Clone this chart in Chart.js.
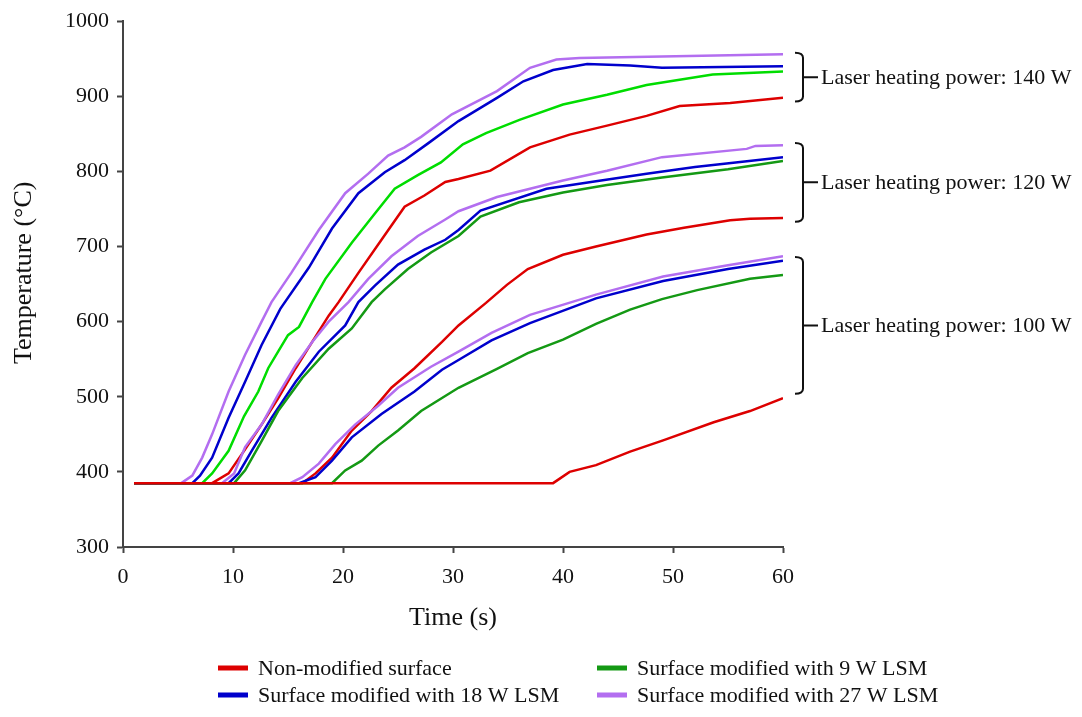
<!DOCTYPE html>
<html>
<head>
<meta charset="utf-8">
<script src="https://cdn.jsdelivr.net/npm/chart.js@4/dist/chart.umd.min.js"></script>
<style>
    html, body { margin: 0; padding: 0; background: #fff; }
    #wrap { width: 1082px; height: 717px; position: relative; }
</style>
</head>
<body>
<div id="wrap"><canvas id="tempChart"></canvas></div>
<script>
// time (s), temperature (°C) readings for each surface / laser power
var nonMod140 = [[1,385],[8.1,385],[9.6,398],[11.1,430],[12.6,463],[14.1,498],[15.7,538],[17.2,573],[18.7,608],[19.6,626],[21.4,665],[23.5,709],[25.6,753],[27.4,768],[29.3,786],[30.5,790],[33.4,801],[37,832],[40.6,849],[44,861],[47.6,874],[50.6,887],[55.2,891],[60,898]];
var nonMod120 = [[1,385],[16.3,385],[17.5,398],[19,419],[20.8,455],[22.6,481],[24.4,512],[26.5,538],[29,573],[30.5,595],[33,625],[34.9,649],[36.8,670],[40,689],[43,700],[47.6,716],[51,725],[55.2,735],[57,737],[60,738]];
var nonMod100 = [[1,385],[39.1,385],[40.6,400],[43,409],[46.1,427],[49.1,442],[53.7,466],[57,481],[60,498]];

var lsm9_140 = [[1,385],[7.2,385],[8.1,398],[9.6,428],[11,474],[12.3,507],[13.2,538],[14.1,560],[15,582],[16,593],[17.2,626],[18.4,657],[20.8,705],[22.9,744],[24.7,777],[26.8,795],[28.9,812],[30.9,836],[33,851],[36.1,869],[40,889],[44,902],[47.6,915],[53.6,929],[60,933]];
var lsm9_120 = [[1,385],[10.1,385],[11.1,402],[12.6,441],[14.1,481],[16.3,525],[18.7,564],[20.8,591],[22.6,626],[23.8,643],[25.9,670],[28,692],[30.5,714],[32.5,740],[36,759],[40,772],[44,782],[49,792],[55,803],[60,814]];
var lsm9_100 = [[1,385],[19,385],[20.2,402],[21.7,415],[23.2,435],[25,455],[27.1,481],[30.5,512],[34,537],[36.8,558],[40,576],[43,597],[46.1,616],[49,630],[52.2,642],[57,657],[60,662]];

var lsm18_140 = [[1,385],[6.3,385],[7,395],[8.1,419],[9.6,472],[11.1,520],[12.6,569],[14.3,617],[16.9,672],[19,724],[21.4,771],[23.8,799],[25.6,815],[27.7,837],[30.5,867],[34,898],[36.4,920],[39.1,935],[42.2,943],[46.1,941],[49,938],[60,940]];
var lsm18_120 = [[1,385],[9.6,385],[10.5,398],[11.7,428],[13.5,472],[15.7,520],[17.8,560],[20.2,595],[21.4,626],[22.9,648],[25,676],[27.4,696],[29.3,709],[30.5,722],[32.5,748],[38.5,777],[43,787],[47.6,797],[52,806],[60,819]];
var lsm18_100 = [[1,385],[16,385],[17.5,393],[19,415],[20.8,446],[23.5,477],[26.5,507],[29,536],[30.5,549],[33.5,575],[37,598],[43,631],[49.1,654],[55,670],[60,681]];

var lsm27_140 = [[1,385],[5.3,385],[6.3,395],[7.2,419],[8.1,450],[9.6,507],[11.1,556],[12.6,600],[13.5,626],[15.3,665],[17.8,722],[20.2,771],[22.3,797],[24.1,821],[25.6,832],[27.1,846],[29.9,876],[34,907],[37,938],[39.4,949],[41.5,951],[49,953],[60,956]];
var lsm27_120 = [[1,385],[9,385],[10.1,398],[11.1,433],[12.6,463],[14.1,503],[15.7,542],[17.2,573],[18.7,600],[20.5,626],[22.3,657],[24.4,687],[26.8,714],[29.3,736],[30.5,747],[34,766],[40,788],[44,801],[49,819],[56.7,830],[57.5,834],[60,835]];
var lsm27_100 = [[1,385],[15.2,385],[16.3,393],[17.8,411],[19.3,437],[21.1,463],[23.2,488],[25,512],[28,540],[30.5,560],[33.5,585],[37,609],[43,636],[49.1,660],[55,675],[60,687]];

var legendLabels = ['Non-modified surface', 'Surface modified with 9 W LSM', 'Surface modified with 18 W LSM', 'Surface modified with 27 W LSM'];
var powerLabels = ['Laser heating power: 140 W', 'Laser heating power: 120 W', 'Laser heating power: 100 W'];
// temperature span each bracket covers (top, bottom)
var powerSpans = [[958, 893], [838, 733], [686, 504]];

var xTicks = [0, 10, 20, 30, 40, 50, 60];
var yTicks = [300, 400, 500, 600, 700, 800, 900, 1000];

(function () {

    var RED = '#dd0000', BLUE = '#0000cc', PURPLE = '#b36ef0';
    var GREEN = '#00dd00', DKGREEN = '#149914';
    var FONT = "'Liberation Serif', 'Times New Roman', serif";

    function serie(points, color) {
        return {
            data: points.map(function (p) { return {x: p[0], y: p[1]}; }),
            borderColor: color,
            borderWidth: 2.5,
            pointRadius: 0,
            tension: 0,
            fill: false
        };
    }

    var datasets = [
        serie(nonMod100, RED), serie(lsm9_100, DKGREEN), serie(lsm18_100, BLUE), serie(lsm27_100, PURPLE),
        serie(nonMod120, RED), serie(lsm9_120, DKGREEN), serie(lsm18_120, BLUE), serie(lsm27_120, PURPLE),
        serie(nonMod140, RED), serie(lsm9_140, GREEN), serie(lsm18_140, BLUE), serie(lsm27_140, PURPLE)
    ];

    // y title, brackets + labels on the right, and the two-column legend at the bottom
    var extras = {
        id: 'extras',
        afterDraw: function (chart) {
            var ctx = chart.ctx;
            var yScale = chart.scales.y;
            var x0 = chart.chartArea.right + 12;
            var xv = x0 + 8;
            ctx.save();

            ctx.fillStyle = '#111';
            ctx.font = '26px ' + FONT;
            ctx.textAlign = 'center';
            ctx.textBaseline = 'middle';
            ctx.translate(24, yScale.getPixelForValue(665));
            ctx.rotate(-Math.PI / 2);
            ctx.fillText('Temperature (°C)', 0, 0);
            ctx.setTransform(1, 0, 0, 1, 0, 0);

            ctx.strokeStyle = '#111';
            ctx.lineWidth = 2;
            ctx.font = '22px ' + FONT;
            ctx.textAlign = 'left';
            powerSpans.forEach(function (span, i) {
                var yt = yScale.getPixelForValue(span[0]);
                var yb = yScale.getPixelForValue(span[1]);
                var ym = (yt + yb) / 2;
                ctx.beginPath();
                ctx.moveTo(x0, yt);
                ctx.quadraticCurveTo(xv, yt, xv, yt + 5);
                ctx.lineTo(xv, yb - 5);
                ctx.quadraticCurveTo(xv, yb, x0, yb);
                ctx.moveTo(xv, ym);
                ctx.lineTo(xv + 15, ym);
                ctx.stroke();
                ctx.fillText(powerLabels[i], xv + 18, ym + 1);
            });

            var colors = [RED, DKGREEN, BLUE, PURPLE];
            var cols = [218, 597];
            var rows = [668, 695];
            legendLabels.forEach(function (txt, i) {
                var cx = cols[i % 2], cy = rows[Math.floor(i / 2)];
                ctx.fillStyle = colors[i];
                ctx.fillRect(cx, cy - 2.5, 30, 5);
                ctx.fillStyle = '#111';
                ctx.fillText(txt, cx + 40, cy + 1);
            });
            ctx.restore();
        }
    };

    var ctx = document.getElementById('tempChart').getContext('2d');
    new Chart(ctx, {
        type: 'line',
        data: {datasets: datasets},
        plugins: [extras],
        options: {
            responsive: true,
            maintainAspectRatio: false,
            animation: false,
            layout: {padding: {left: 0, top: 16, right: 299, bottom: 77}},
            plugins: {legend: {display: false}, tooltip: {enabled: false}},
            scales: {
                x: {
                    type: 'linear',
                    min: 0,
                    max: 60,
                    afterFit: function (s) { s.height = 93; },
                    afterBuildTicks: function (s) { s.ticks = xTicks.map(function (v) { return {value: v}; }); },
                    grid: {drawOnChartArea: false, drawTicks: true, tickLength: 6, tickColor: '#444', tickWidth: 2},
                    border: {display: true, color: '#444', width: 2},
                    ticks: {color: '#111', padding: 11, maxRotation: 0, font: {family: FONT, size: 22},
                        callback: function (v) { return String(v); }},
                    title: {display: true, text: 'Time (s)', color: '#111', padding: {bottom: 6}, font: {family: FONT, size: 26}}
                },
                y: {
                    min: 300,
                    max: 1000,
                    afterFit: function (s) { s.width = 123; },
                    afterBuildTicks: function (s) { s.ticks = yTicks.map(function (v) { return {value: v}; }); },
                    grid: {drawOnChartArea: false, drawTicks: true, tickLength: 6, tickColor: '#444', tickWidth: 2},
                    border: {display: true, color: '#444', width: 2},
                    ticks: {color: '#111', padding: 8, font: {family: FONT, size: 22},
                        callback: function (v) { return String(v); }}
                }
            }
        }
    });

})();
</script>
</body>
</html>
